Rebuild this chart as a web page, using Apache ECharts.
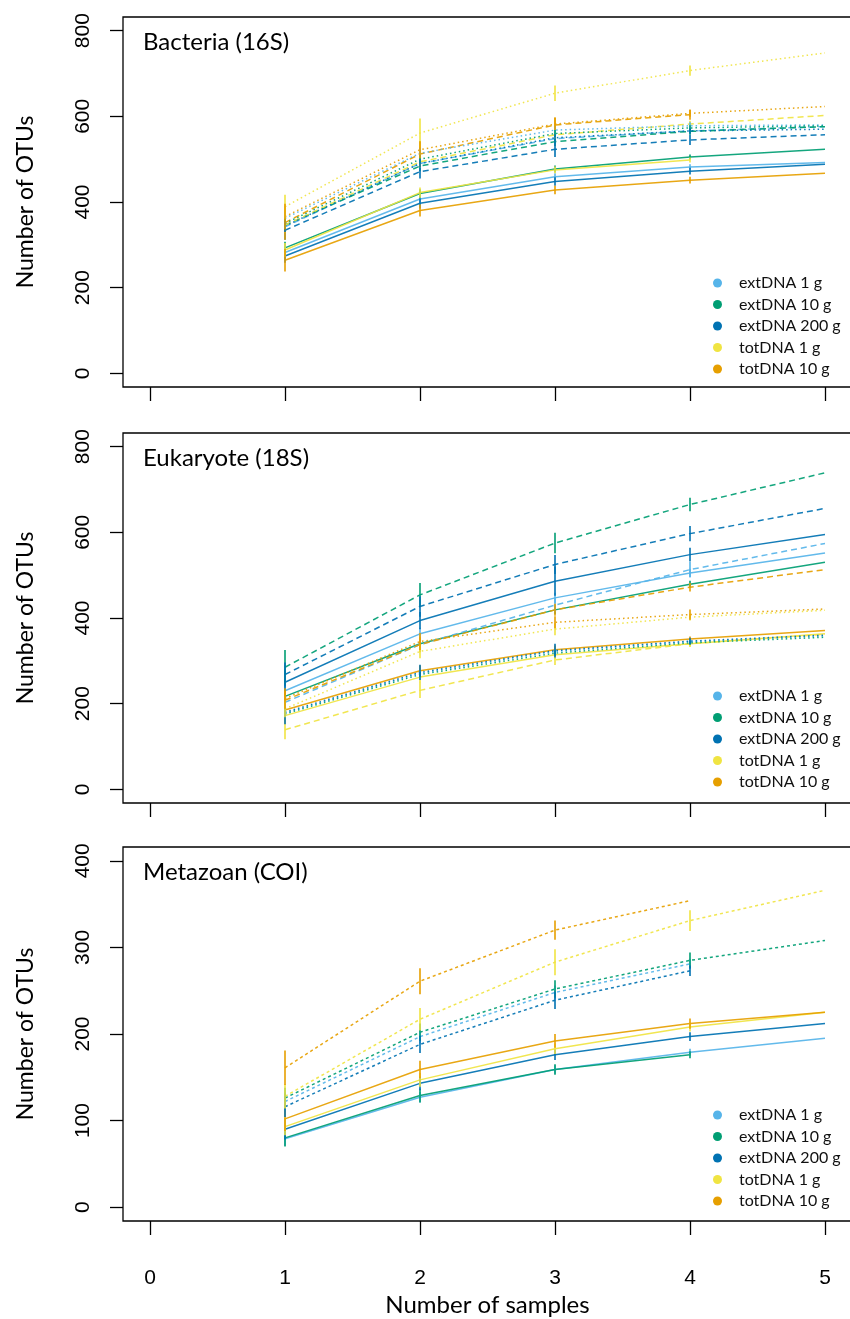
<!DOCTYPE html>
<html>
<head>
<meta charset="utf-8">
<title>OTU accumulation curves</title>
<script src="https://cdn.jsdelivr.net/npm/echarts@6/dist/echarts.min.js"></script>
<style>
  html, body { margin: 0; padding: 0; background: #fff; }
  #chart { width: 850px; height: 1319px; }
</style>
</head>
<body>
<div id="chart"></div>
<script>
// ---- data ----
const samples = [1, 2, 3, 4, 5];
const groups = ['extDNA 1 g', 'extDNA 10 g', 'extDNA 200 g', 'totDNA 1 g', 'totDNA 10 g'];
const panelTitles = ['Bacteria (16S)', 'Eukaryote (18S)', 'Metazoan (COI)'];
const xTicks = [0, 1, 2, 3, 4, 5];
const yTicksBig = [0, 200, 400, 600, 800];
const yTicksSmall = [0, 100, 200, 300, 400];

// Bacteria (16S): rows follow `groups`
const bacSolid = [
  [282, 407, 459, 482, 492],
  [293, 420, 477, 505, 523],
  [274, 397, 448, 472, 488],
  [288, 422, 475, 498, null],
  [264, 380, 428, 451, 467]
];
const bacDashed = [
  [342, 490, 548, 566, 576],
  [346, 484, 541, 565, 576],
  [334, 471, 523, 545, 557],
  [346, 494, 557, 582, 602],
  [352, 512, 580, 604, null]
];
const bacDotted = [
  [362, 514, 568, 578, 580],
  [350, 500, 560, 573, 578],
  [344, 490, 550, 566, 570],
  [389, 561, 654, 707, 748],
  [366, 522, 582, 607, 623]
];
const bacSolidErr = [[14, 10, 8, 6], [14, 10, 8, 6], [16, 12, 10, 8], [16, 12, 8, 6], [26, 14, 10, 8]];
const bacDashedErr = [[14, 12, 10, 8], [16, 12, 10, 8], [22, 16, 18, 12], [18, 14, 10, 8], [40, 30, 18, 12]];
const bacDottedErr = [[14, 12, 10, 8], [14, 10, 8, 6], [14, 10, 8, 6], [28, 34, 18, 12], [30, 20, 14, 8]];

// Eukaryote (18S)
const eukSolid = [
  [230, 363, 447, 505, 552],
  [217, 340, 419, 479, 530],
  [250, 394, 486, 548, 595],
  [172, 262, 314, 340, 363],
  [185, 277, 326, 351, 371]
];
const eukDashed = [
  [203, 338, 430, 513, 574],
  [285, 454, 575, 665, 739],
  [268, 427, 525, 597, 656],
  [139, 231, 302, 340, 362],
  [208, 338, 419, 472, 513]
];
const eukDotted = [
  [178, 271, 322, 345, 358],
  [176, 268, 318, 342, 355],
  [180, 273, 324, 346, 360],
  [188, 322, 374, 402, 418],
  [212, 345, 390, 408, 421]
];
const eukSolidErr = [[18, 14, 12, 10], [16, 12, 10, 8], [30, 20, 34, 16], [16, 14, 10, 6], [14, 12, 10, 6]];
const eukDashedErr = [[14, 12, 16, 18], [40, 28, 24, 16], [28, 24, 22, 18], [22, 18, 12, 8], [22, 18, 14, 10]];
const eukDottedErr = [[8, 6, 6, 4], [8, 6, 6, 4], [28, 18, 16, 8], [20, 16, 14, 8], [24, 20, 14, 12]];

// Metazoan (COI)
const metSolid = [
  [79, 127, 159, 179, 195],
  [80, 129, 159, 176, null],
  [90, 143, 176, 197, 212],
  [93, 147, 183, 208, 225],
  [102, 159, 192, 212, 225]
];
const metDotted = [
  [122, 197, 248, 281, null],
  [126, 202, 252, 285, 308],
  [116, 188, 239, 273, null],
  [128, 217, 283, 331, 366],
  [161, 261, 320, 354, null]
];
const metSolidErr = [[8, 6, 5, 4], [10, 8, 6, 4], [12, 8, 6, 5], [10, 8, 6, 5], [14, 10, 8, 6]];
const metDottedErr = [[10, 8, 8, 6], [12, 10, 10, 9], [12, 10, 10, 6], [14, 13, 15, 12], [20, 15, 11, 0]];

// ---- styling ----
const palette = ['#56B4E9', '#009E73', '#0072B2', '#F0E442', '#E69F00'];
const tickFont = 'Liberation Sans, Arial, sans-serif';
const textFont = 'Lato, Open Sans, sans-serif';

const panels = [
  { lines: [bacSolid, bacDashed, bacDotted], errs: [bacSolidErr, bacDashedErr, bacDottedErr],
    dash: ['solid', [6, 4], [1.5, 3]], top: 17, height: 370, yMin: -32, yMax: 832, yTicks: yTicksBig, legendTop: 275 },
  { lines: [eukSolid, eukDashed, eukDotted], errs: [eukSolidErr, eukDashedErr, eukDottedErr],
    dash: ['solid', [6, 4], [1.5, 3]], top: 433, height: 370, yMin: -32, yMax: 832, yTicks: yTicksBig, legendTop: 688 },
  { lines: [metSolid, metDotted], errs: [metSolidErr, metDottedErr],
    dash: ['solid', [3, 3]], top: 847, height: 374, yMin: -16, yMax: 416, yTicks: yTicksSmall, legendTop: 1107 }
];

const chart = echarts.init(document.getElementById('chart'), null, { renderer: 'canvas' });

const grids = [], xAxes = [], yAxes = [], titles = [], legends = [], series = [];

panels.forEach((p, pi) => {
  grids.push({
    left: 123, width: 729, top: p.top, height: p.height,
    show: true, borderColor: '#000', borderWidth: 1.3, backgroundColor: 'transparent',
    containLabel: false, outerBoundsMode: 'none'
  });

  const last = pi === panels.length - 1;
  xAxes.push({
    type: 'value', gridIndex: pi, min: -0.2, max: 5.2,
    axisLine: { show: false, onZero: false }, splitLine: { show: false },
    axisTick: { show: true, length: 14, customValues: xTicks, lineStyle: { color: '#000', width: 1.3 } },
    axisLabel: { show: last, customValues: xTicks, margin: 47, color: '#000', fontSize: 21, fontFamily: tickFont },
    name: last ? 'Number of samples' : '', nameLocation: 'middle', nameGap: 72,
    nameTextStyle: { fontSize: 24, fontFamily: textFont, color: '#000' }
  });

  yAxes.push({
    type: 'value', gridIndex: pi, min: p.yMin, max: p.yMax,
    axisLine: { show: false, onZero: false }, splitLine: { show: false },
    axisTick: { show: true, length: 13, customValues: p.yTicks, lineStyle: { color: '#000', width: 1.3 } },
    axisLabel: { customValues: p.yTicks, rotate: 90, margin: 29, color: '#000', fontSize: 21, fontFamily: tickFont },
    name: 'Number of OTUs', nameLocation: 'middle', nameGap: 86,
    nameTextStyle: { fontSize: 23, fontFamily: textFont, color: '#000' }
  });

  titles.push({
    text: panelTitles[pi], left: 143, top: p.top + 13, padding: 0,
    textStyle: { fontSize: 24, fontWeight: 'normal', fontFamily: textFont, color: '#000' }
  });

  legends.push({
    data: groups, orient: 'vertical', left: 713, top: p.legendTop,
    icon: 'circle', itemWidth: 9, itemHeight: 9, itemGap: 5.5, padding: 0,
    selectedMode: false,
    itemStyle: { borderWidth: 0 },
    textStyle: { fontSize: 16, lineHeight: 16, fontFamily: textFont, color: '#111', padding: [0, 0, 0, 12] }
  });

  const errData = [];
  p.lines.forEach((rows, li) => {
    rows.forEach((vals, gi) => {
      const pts = [];
      vals.forEach((v, k) => { if (v !== null) pts.push([samples[k], v]); });
      series.push({
        type: 'line', name: groups[gi], xAxisIndex: pi, yAxisIndex: pi,
        data: pts, symbol: 'none', showSymbol: false, silent: true, animation: false,
        itemStyle: { color: palette[gi] },
        lineStyle: { color: palette[gi], width: 1.5, type: p.dash[li], opacity: 0.92 },
        z: 3 + li
      });
      p.errs[li][gi].forEach((e, k) => {
        const v = vals[k];
        if (v !== null && e > 0) errData.push([samples[k], v - e, v + e, gi]);
      });
    });
  });

  series.push({
    type: 'custom', name: 'error bars ' + pi, xAxisIndex: pi, yAxisIndex: pi,
    silent: true, animation: false, z: 6,
    data: errData,
    renderItem: function (params, api) {
      const a = api.coord([api.value(0), api.value(1)]);
      const b = api.coord([api.value(0), api.value(2)]);
      return {
        type: 'line',
        shape: { x1: a[0], y1: a[1], x2: b[0], y2: b[1] },
        style: { stroke: palette[api.value(3)], lineWidth: 1.6 }
      };
    }
  });
});

chart.setOption({
  backgroundColor: '#fff',
  animation: false,
  title: titles,
  legend: legends,
  grid: grids,
  xAxis: xAxes,
  yAxis: yAxes,
  series: series
});
</script>
</body>
</html>
